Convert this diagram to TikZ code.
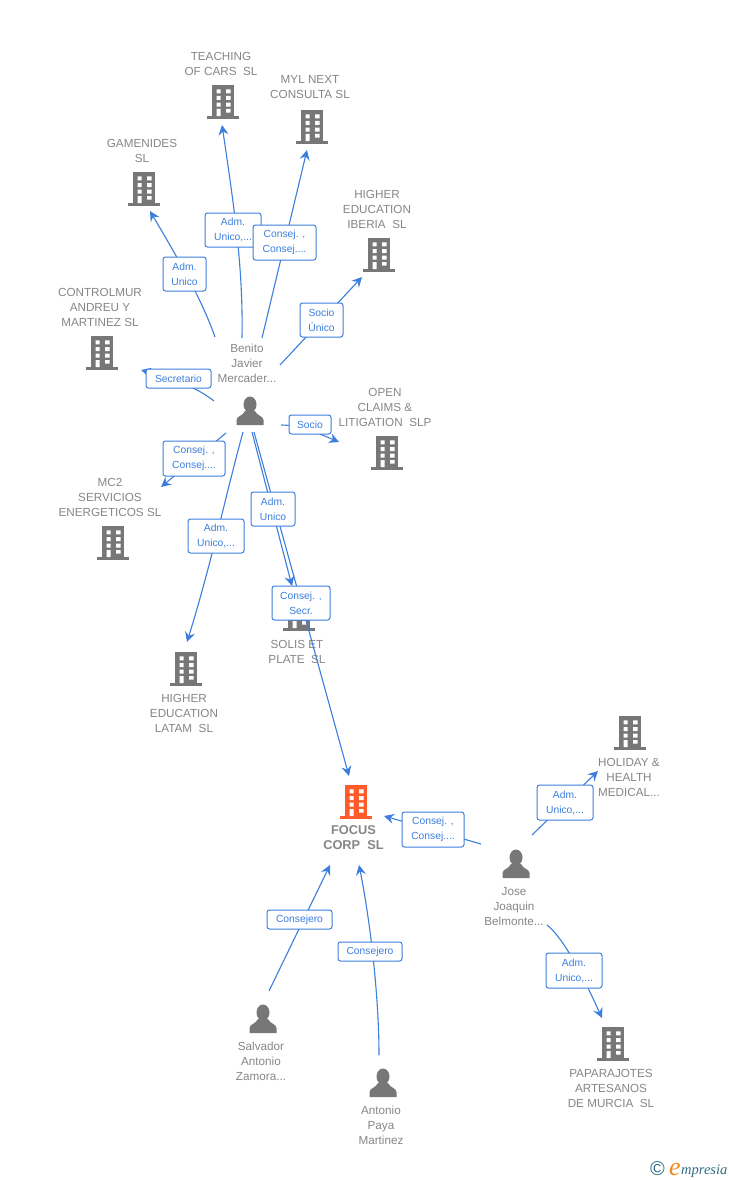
\documentclass[tikz,border=0pt]{standalone}
\usepackage{fontspec}
\setmainfont{Liberation Sans}
\newfontfamily\logoserif{Liberation Serif}
\usetikzlibrary{arrows.meta}
\definecolor{icongrey}{HTML}{777777}
\definecolor{textgrey}{HTML}{868686}
\definecolor{linkblue}{HTML}{3B7EDD}
\definecolor{focusorange}{HTML}{FF5B2B}
\definecolor{logoteal}{HTML}{2F6F86}
\definecolor{logoorange}{HTML}{F08A1D}
\newcommand{\bldicon}[4]{% name, x, y, colour
  \node[iconspot] (#1) at (#2,#3) {};
  \begin{scope}[shift={(#2,#3)}]
    \fill[#4] (-11,-16) rectangle (11,16);
    \fill[#4] (-16,15.2) rectangle (16,18);
    \fill[white] (-6.5,-11.7) rectangle (-2.5,-7.7) (3,-11.7) rectangle (7.5,-7.7)
                 (-6.5,-5) rectangle (-2.5,-1) (3,-5) rectangle (7.5,-1)
                 (-6.5,1.7) rectangle (-2.5,5.7) (3,1.7) rectangle (7.5,5.7)
                 (-6.5,8) rectangle (-2.5,15.2) (3,8) rectangle (7.5,11.7);
  \end{scope}}
\newcommand{\personicon}[3]{% name, x, y
  \node[iconspot] (#1) at (#2,#3) {};
  \begin{scope}[shift={(#2,#3)}]
    \fill[icongrey] (0,-6.5) ellipse (6.5 and 8);
    \fill[icongrey] (-13.5,14) -- (-13.5,9) .. controls (-13.5,5) and (-7,5) .. (-5,0) -- (5,0)
      .. controls (7,5) and (13.5,5) .. (13.5,9) -- (13.5,14) -- cycle;
  \end{scope}}
\tikzset{
  iconspot/.style={inner sep=0pt,minimum size=1pt},
  etext/.style={text=textgrey,font=\fontsize{11.7}{15}\selectfont,align=center,inner sep=0pt},
  flink/.style={text=textgrey,font=\fontsize{12.8}{15}\selectfont\bfseries,align=center,inner sep=0pt},
  link/.style={draw=linkblue,line width=1.1pt,-{Stealth[length=10pt,width=10pt,inset=3.5pt]}},
  lab/.style={draw=linkblue,line width=1pt,rounded corners=2.5pt,fill=white,text=linkblue,
    font=\fontsize{10.3}{15}\selectfont,align=center,inner sep=0pt,anchor=center}
}
\begin{document}
\begin{tikzpicture}[x=1pt,y=-1pt]
\useasboundingbox (0,0) rectangle (728,1180);
% buildings
\bldicon{teaching}{223}{101}{icongrey}
\bldicon{myl}{312}{126}{icongrey}
\bldicon{gamenides}{144}{188}{icongrey}
\bldicon{iberia}{379}{254}{icongrey}
\bldicon{controlmur}{102}{352}{icongrey}
\bldicon{open}{387}{452}{icongrey}
\bldicon{mc2}{113}{542}{icongrey}
\bldicon{solis}{299}{613}{icongrey}
\bldicon{latam}{186}{668}{icongrey}
\bldicon{focus}{356}{801}{focusorange}
\bldicon{holiday}{630}{732}{icongrey}
\bldicon{papa}{613}{1043}{icongrey}
% persons
\personicon{benito}{250}{411}
\personicon{jose}{516}{864}
\personicon{salvador}{263}{1019}
\personicon{antonio}{383}{1083}
% texts
\node[etext] (tteaching) at (221,63.5) {TEACHING\\OF CARS\ \ SL};
\node[etext] (tmyl) at (310,87.5) {MYL NEXT\\CONSULTA SL};
\node[etext] (tgamenides) at (142,150.5) {GAMENIDES\\SL};
\node[etext] (tiberia) at (377,209.5) {HIGHER\\EDUCATION\\IBERIA\ \ SL};
\node[etext] (tcontrolmur) at (100,307.5) {CONTROLMUR\\ANDREU Y\\MARTINEZ SL};
\node[etext] (topen) at (385,407.5) {OPEN\\CLAIMS \&\\LITIGATION\ \ SLP};
\node[etext] (tmc2) at (110,497.5) {MC2\\SERVICIOS\\ENERGETICOS SL};
\node[etext] (tsolis) at (297,651.5) {SOLIS ET\\PLATE\ \ SL};
\node[etext] (tlatam) at (184,713.5) {HIGHER\\EDUCATION\\LATAM\ \ SL};
\node[flink] (tfocus) at (353.5,838) {FOCUS\\CORP\ \ SL};
\node[etext] (tholiday) at (629,777.5) {HOLIDAY \&\\HEALTH\\MEDICAL...};
\node[etext] (tpapa) at (611,1088.5) {PAPARAJOTES\\ARTESANOS\\DE MURCIA\ \ SL};
\node[etext] (tbenito) at (247,363.5) {Benito\\Javier\\Mercader...};
\node[etext] (tjose) at (514,906.5) {Jose\\Joaquin\\Belmonte...};
\node[etext] (tsalvador) at (261,1061.5) {Salvador\\Antonio\\Zamora...};
\node[etext] (tantonio) at (381,1125.5) {Antonio\\Paya\\Martinez};
% connectors
\draw[link] ([shift={(-8,-73)}]benito.center) .. controls +(1,-62) and (237,225) .. ([shift={(-1,24)}]teaching.center);
\draw[link] ([shift={(12,-73)}]benito.center) -- ([shift={(-5,24)}]myl.center);
\draw[link] ([shift={(-35,-74)}]benito.center) .. controls +(-13,-37) and (180,262) .. ([shift={(6,23)}]gamenides.center);
\draw[link] ([shift={(30,-46)}]benito.center) -- ([shift={(-17,23)}]iberia.center);
\draw[link] ([shift={(-36,-10)}]benito.center) .. controls +(-19,-15) and (170,378) .. ([shift={(39,18)}]controlmur.center);
\draw[link] ([shift={(31,14)}]benito.center) .. controls +(19,0) and (320,434) .. ([shift={(-48,-10)}]open.center);
\draw[link] ([shift={(-24,22)}]benito.center) -- ([shift={(48,-55)}]mc2.center);
\draw[link] ([shift={(-7,21)}]benito.center) .. controls (227,490) and (211,565) .. ([shift={(1,-26)}]latam.center);
\draw[link] ([shift={(2,21)}]benito.center) -- ([shift={(-7,-27)}]solis.center);
\draw[link] ([shift={(4,21)}]benito.center) -- ([shift={(-7,-25)}]focus.center);
\draw[link] ([shift={(-35,-20)}]jose.center) -- ([shift={(28,15)}]focus.center);
\draw[link] ([shift={(16,-29)}]jose.center) -- ([shift={(-32,39)}]holiday.center);
\draw[link] ([shift={(31,61)}]jose.center) .. controls +(14,11) and (578,965) .. ([shift={(-11,-25)}]papa.center);
\draw[link] ([shift={(6,-28)}]salvador.center) -- ([shift={(-26,64)}]focus.center);
\draw[link] ([shift={(-4,-28)}]antonio.center) .. controls +(0,-55) and (371,925) .. ([shift={(3,64)}]focus.center);
% labels
\node[lab,minimum width=56pt,minimum height=34pt] (l1) at (233,230) {Adm.\\Unico,...};
\node[lab,minimum width=63pt,minimum height=35pt] (l2) at (284.5,242.5) {Consej. ,\\Consej....};
\node[lab,minimum width=43pt,minimum height=34pt] (l3) at (184.5,274) {Adm.\\Unico};
\node[lab,minimum width=43pt,minimum height=34pt] (l4) at (321.5,320) {Socio\\Único};
\node[lab,minimum width=65pt,minimum height=19pt] (l5) at (178.5,378.5) {Secretario};
\node[lab,minimum width=42pt,minimum height=19pt] (l6) at (310,424.5) {Socio};
\node[lab,minimum width=62pt,minimum height=35pt] (l7) at (194,458.5) {Consej. ,\\Consej....};
\node[lab,minimum width=56pt,minimum height=34pt] (l8) at (216,536) {Adm.\\Unico,...};
\node[lab,minimum width=44pt,minimum height=34pt] (l9) at (273,509) {Adm.\\Unico};
\node[lab,minimum width=58pt,minimum height=34pt] (l10) at (301,603) {Consej. ,\\Secr.};
\node[lab,minimum width=62pt,minimum height=35pt] (l11) at (433,829.5) {Consej. ,\\Consej....};
\node[lab,minimum width=56pt,minimum height=35pt] (l12) at (565,802.5) {Adm.\\Unico,...};
\node[lab,minimum width=56pt,minimum height=35pt] (l13) at (574,970.5) {Adm.\\Unico,...};
\node[lab,minimum width=65pt,minimum height=19pt] (l14) at (299.5,919.5) {Consejero};
\node[lab,minimum width=64pt,minimum height=19pt] (l15) at (370,951.5) {Consejero};
% logo
\node[inner sep=0pt,text=logoteal,font=\fontsize{20}{20}\selectfont] (copyr) at (657.5,1169) {©};
\node[inner sep=0pt,anchor=base west,text=logoorange,font=\logoserif\fontsize{26}{26}\selectfont\itshape] (logoe) at (669,1175) {e};
\node[inner sep=0pt,anchor=base west,text=logoteal,font=\logoserif\fontsize{14.5}{14.5}\selectfont\itshape] (logot) at (681,1174) {mpresia};
\end{tikzpicture}
\end{document}
